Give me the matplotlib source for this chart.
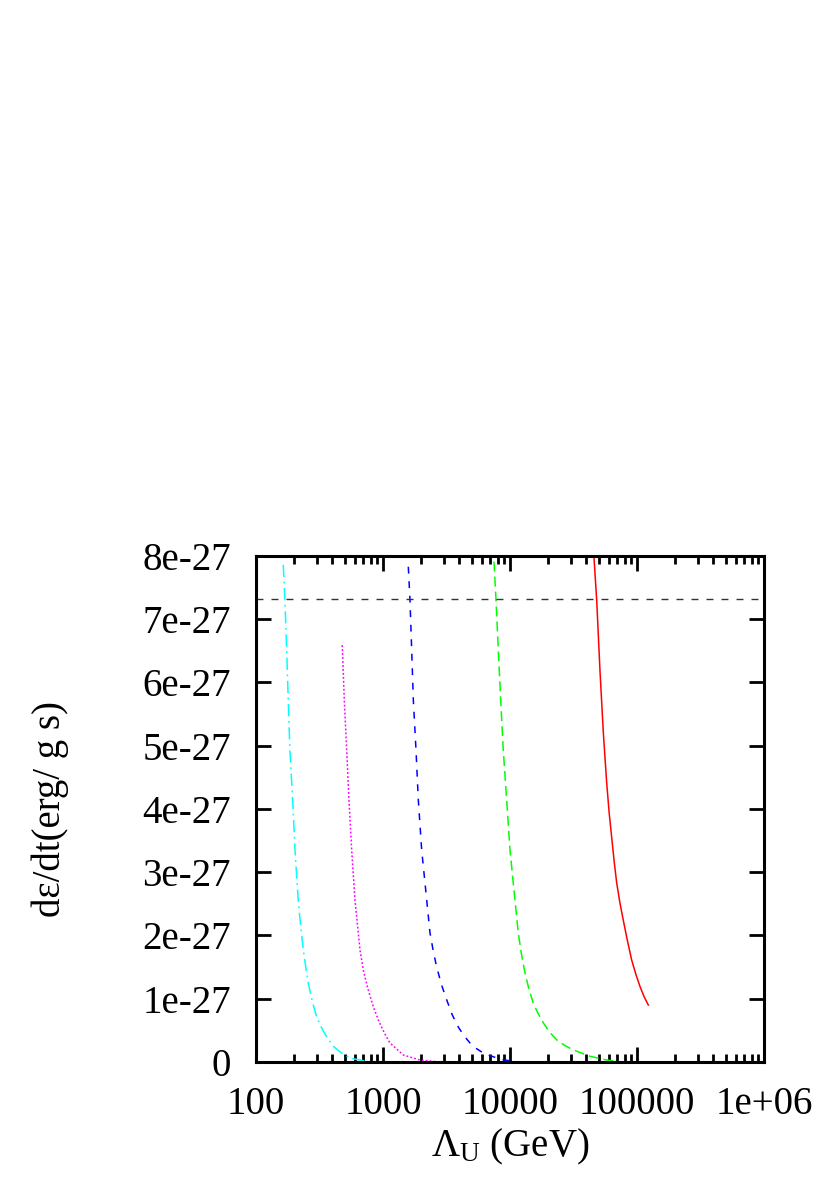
import numpy as np
import matplotlib
matplotlib.use("Agg")
import matplotlib.pyplot as plt
from matplotlib.ticker import FixedLocator, FixedFormatter, LogLocator, NullFormatter

plt.rcParams['font.family'] = ['Liberation Serif', 'DejaVu Serif']
plt.rcParams['mathtext.fontset'] = 'custom'
plt.rcParams['mathtext.rm'] = 'Liberation Serif'
plt.rcParams['mathtext.it'] = 'Liberation Serif:italic'

# data (x in GeV, y in units of 1e-27 erg/(g s))
cyan_x = [164, 169, 174.5, 179.5, 185, 194.5, 203, 215, 225, 236, 247, 258, 278, 301, 330, 360, 405, 458, 550, 744]
cyan_y = [7.86, 7.30, 6.51, 5.72, 4.93, 4.14, 3.35, 2.56, 2.14, 1.77, 1.49, 1.25, 0.95, 0.71, 0.53, 0.40, 0.25, 0.16, 0.06, 0.01]

mag_x = [478, 496, 518, 540, 567, 602, 659, 705, 760, 840, 930, 1030, 1135, 1445, 1955, 2810]
mag_y = [6.59, 5.72, 4.93, 4.14, 3.35, 2.56, 1.77, 1.42, 1.16, 0.87, 0.64, 0.45, 0.30, 0.11, 0.03, 0.0]

blue_x = [1583, 1632, 1683, 1734, 1820, 1898, 2017, 2142, 2345, 2490, 2647, 2900, 3177, 3520, 3920, 4360, 4843, 5460, 6166, 6970, 8500, 10570]
blue_y = [7.83, 7.30, 6.51, 5.72, 4.93, 4.14, 3.35, 2.83, 2.04, 1.75, 1.50, 1.21, 0.98, 0.74, 0.55, 0.41, 0.30, 0.21, 0.14, 0.10, 0.04, 0.01]

green_x = [7482, 7762, 8091, 8451, 8851, 9419, 10000, 10610, 11620, 12300, 13120, 14100, 15250, 16600, 18280, 20500, 23320, 27000, 31500, 42630, 58000, 75000]
green_y = [7.91, 7.30, 6.51, 5.72, 4.93, 4.14, 3.35, 2.83, 2.04, 1.71, 1.41, 1.15, 0.93, 0.77, 0.62, 0.47, 0.35, 0.26, 0.19, 0.09, 0.03, 0.0]

red_x = [45800, 48160, 51130, 54330, 57730, 60300, 63190, 66100, 69200, 73300, 77990, 84000, 90810, 97800, 105700, 113800, 122800]
red_y = [7.99, 7.30, 6.18, 5.20, 4.41, 3.95, 3.55, 3.17, 2.83, 2.52, 2.24, 1.92, 1.61, 1.39, 1.19, 1.03, 0.90]

bound = 7.32  # horizontal limit line

xticks = [100, 1000, 10000, 100000, 1e6]
xticklabels = ['100', '1000', '10000', '100000', '1e+06']
yticks = [0, 1, 2, 3, 4, 5, 6, 7, 8]
yticklabels = ['0'] + ['%de-27' % i for i in range(1, 9)]

fig = plt.figure(figsize=(8.3, 11.86), dpi=100)
ax = fig.add_axes([0.3084, 0.1046, 0.6121, 0.4266])

lw = 1.1
ax.plot(red_x, red_y, color='#ff0000', lw=lw, ls='-')
ax.plot(green_x, green_y, color='#00ff00', lw=lw, ls=(0, (6.5, 3.3)))
ax.plot(blue_x, blue_y, color='#0000ff', lw=lw, ls=(0, (4.5, 5)))
ax.plot(mag_x, mag_y, color='#ff00ff', lw=lw, ls=(0, (1.2, 1.4)))
ax.plot(cyan_x, cyan_y, color='#00ffff', lw=lw, ls=(0, (8, 3, 1.2, 3)))
ax.axhline(bound, color='#333333', lw=1.0, ls=(0, (5, 5.8)))

ax.set_xscale('log')
ax.set_xlim(100, 1e6)
ax.set_ylim(0, 8)

ax.xaxis.set_major_locator(FixedLocator(xticks))
ax.xaxis.set_major_formatter(FixedFormatter(xticklabels))
ax.xaxis.set_minor_locator(LogLocator(base=10, subs=np.arange(2, 10)))
ax.xaxis.set_minor_formatter(NullFormatter())
ax.yaxis.set_major_locator(FixedLocator(yticks))
ax.yaxis.set_major_formatter(FixedFormatter(yticklabels))

ax.tick_params(which='both', direction='in', top=True, right=True, width=2, labelsize=28)
ax.tick_params(which='major', length=11)
ax.tick_params(which='minor', length=6)
ax.tick_params(axis='x', pad=17)
ax.tick_params(axis='y', pad=18)
for s in ax.spines.values():
    s.set_linewidth(2.2)

ax.set_xlabel(r'$\Lambda_{\rm U}$ (GeV)', fontsize=28, labelpad=3)
ax.set_ylabel('dε/dt(erg/ g s)', fontsize=28, labelpad=53)

fig.savefig('out.png', dpi=100)
